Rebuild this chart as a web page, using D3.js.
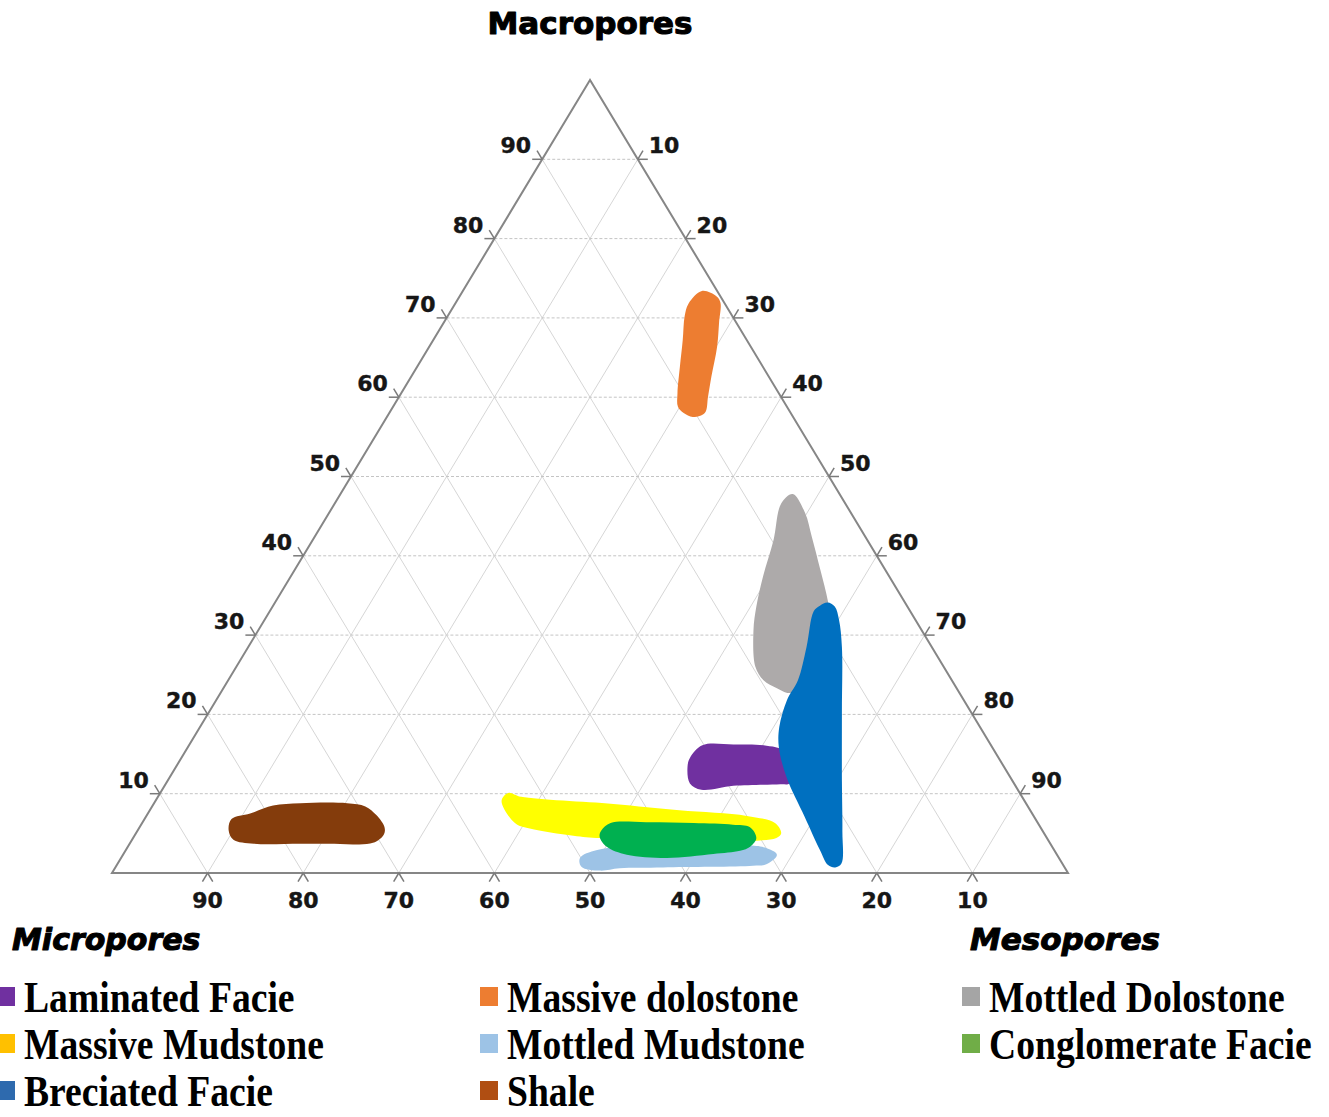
<!DOCTYPE html>
<html>
<head>
<meta charset="utf-8">
<script src="https://cdn.jsdelivr.net/npm/d3@7"></script>
<style>
  html, body { margin: 0; padding: 0; background: #fff; }
  svg { display: block; }
</style>
</head>
<body>
<svg id="chart" width="1329" height="1117"></svg>
<script>
// Ternary pore-size diagram: Macropores (apex), Micropores (bottom-left), Mesopores (bottom-right).
// Each facies field is an outline given as [macro, meso, micro] percentages.

const facies = ["Laminated Facie", "Massive dolostone", "Mottled Dolostone",
                "Massive Mudstone", "Mottled Mudstone", "Conglomerate Facie",
                "Breciated Facie", "Shale"];

const tickValues = [10, 20, 30, 40, 50, 60, 70, 80, 90];

const shale = [[6.8,9.1,84.1],[7.5,10.7,81.8],[8.5,12.6,78.9],[8.8,15.3,75.9],[8.8,20.2,71.0],
  [8.4,22.3,69.3],[7.3,24.0,68.7],[5.8,25.6,68.6],[4.9,26.0,69.1],[3.8,25.4,70.8],
  [3.7,21.3,75.0],[3.7,17.8,78.5],[3.7,13.0,83.3],[4.2,10.6,85.2],[5.4,9.5,85.1]];

const massiveDolostone = [[73.4,25.0,1.6],[72.7,26.9,0.4],[71.9,27.7,0.4],[69.4,28.8,1.8],
  [66.4,30.1,3.5],[62.6,31.4,6.0],[60.1,32.3,7.6],[58.0,33.0,9.0],[57.5,32.0,10.5],
  [58.0,30.8,11.2],[58.8,29.8,11.4],[60.5,28.9,10.6],[63.8,27.5,8.7],[67.2,26.1,6.7],
  [70.2,24.8,5.0],[71.8,24.4,3.8]];

const mottledDolostone = [[47.8,47.3,4.9],[45.4,49.8,4.8],[42.4,52.0,5.6],[38.2,55.0,6.8],
  [34.2,57.8,8.0],[30.6,60.0,9.4],[25.0,61.1,13.9],[22.7,59.6,17.7],[23.3,57.9,18.8],
  [24.3,56.0,19.7],[26.0,54.3,19.7],[30.6,51.8,17.6],[33.6,50.6,15.8],[37.4,49.4,13.2],
  [42.0,48.2,9.8],[46.6,46.7,6.7]];

const laminatedFacie = [[16.1,53.7,30.2],[16.2,56.9,26.9],[16.1,60.1,23.8],[15.3,62.8,21.9],
  [13.0,64.6,22.4],[11.3,65.2,23.5],[11.2,64.3,24.5],[11.0,59.5,29.5],[10.5,56.4,33.1],
  [11.3,54.8,33.9],[13.4,53.5,33.1],[14.5,53.2,32.3]];

const massiveMudstone = [[10.1,36.4,53.5],[9.6,38.0,52.4],[8.7,48.1,43.2],[7.9,55.4,36.7],
  [7.2,62.8,30.0],[6.3,66.2,27.5],[5.0,67.5,27.5],[4.4,67.3,28.3],[4.1,65.7,30.2],
  [4.2,60.8,35.0],[4.4,48.9,46.7],[4.7,45.9,49.4],[5.6,40.9,53.5],[6.3,39.0,54.7],
  [9.1,36.2,54.7]];

const mottledMudstone = [[1.9,48.0,50.1],[2.9,49.3,47.8],[3.5,54.2,42.3],[3.5,64.6,31.9],
  [3.2,66.7,30.1],[2.3,68.4,29.3],[1.1,67.9,31.0],[0.9,66.6,32.5],[0.7,57.3,42.0],
  [0.6,52.8,46.6],[0.3,50.9,48.8],[0.8,48.7,50.5]];

const conglomerateFacie = [[6.3,49.0,44.7],[6.4,52.7,40.9],[6.3,57.7,36.0],[6.1,61.9,32.0],
  [5.8,63.8,30.4],[4.4,65.2,30.4],[3.3,65.1,31.6],[2.8,64.3,32.9],[2.4,61.7,35.9],
  [1.9,57.1,41.0],[2.3,52.7,45.0],[3.3,50.1,46.6],[4.6,48.7,46.7],[5.4,48.5,46.1]];

const breciatedFacie = [[34.1,57.8,8.1],[33.6,58.8,7.6],[31.9,60.1,8.0],[28.5,62.1,9.4],
  [20.1,66.3,13.6],[11.7,70.5,17.8],[5.4,73.7,20.9],[1.2,75.7,23.1],[0.7,75.3,24.0],
  [1.0,74.4,24.6],[2.9,72.6,24.5],[7.1,68.9,24.0],[12.1,64.5,23.4],[15.9,61.8,22.3],
  [18.4,60.6,21.0],[21.8,59.7,18.5],[24.3,59.6,16.1],[28.5,58.4,13.1],[33.0,56.9,10.1],
  [33.7,57.2,9.1]];

// Field fills and legend swatch colours
const fieldColors = {
  "Laminated Facie": "#7030A0", "Massive dolostone": "#ED7D31", "Mottled Dolostone": "#ADAAAA",
  "Massive Mudstone": "#FFFF00", "Mottled Mudstone": "#9DC3E6", "Conglomerate Facie": "#00B050",
  "Breciated Facie": "#0070C0", "Shale": "#843C0C"
};
const swatchColors = {
  "Laminated Facie": "#7030A0", "Massive dolostone": "#ED7D31", "Mottled Dolostone": "#A5A5A5",
  "Massive Mudstone": "#FFC000", "Mottled Mudstone": "#9DC3E6", "Conglomerate Facie": "#70AD47",
  "Breciated Facie": "#2E6AAE", "Shale": "#B04E12"
};

// Drawing order (later fields sit on top)
const layers = [
  ["Shale", shale], ["Massive dolostone", massiveDolostone], ["Mottled Dolostone", mottledDolostone],
  ["Laminated Facie", laminatedFacie], ["Massive Mudstone", massiveMudstone],
  ["Mottled Mudstone", mottledMudstone], ["Conglomerate Facie", conglomerateFacie],
  ["Breciated Facie", breciatedFacie]
];

const svg = d3.select("#chart");

// Scales: horizontal position along the base, vertical position by macropore share
const xBase = d3.scaleLinear().domain([0, 100]).range([112, 1068]);
const yMacro = d3.scaleLinear().domain([0, 100]).range([873, 80]);

// [macro, meso, micro] -> [x, y]
function project(p) {
  const a = p[0], b = p[1];
  return [xBase(b + a / 2), yMacro(a)];
}

const apex = project([100, 0, 0]);
const left = project([0, 0, 100]);
const right = project([0, 100, 0]);

// Grid lines
const grid = svg.append("g");
tickValues.forEach(v => {
  // constant macropores (horizontal, dashed)
  const h1 = project([v, 0, 100 - v]), h2 = project([v, 100 - v, 0]);
  grid.append("line").attr("x1", h1[0]).attr("y1", h1[1]).attr("x2", h2[0]).attr("y2", h2[1])
    .attr("stroke", "#c4c4c4").attr("stroke-width", 1).attr("stroke-dasharray", "3,2");
  // constant micropores (parallel to right edge)
  const m1 = project([100 - v, 0, v]), m2 = project([0, 100 - v, v]);
  grid.append("line").attr("x1", m1[0]).attr("y1", m1[1]).attr("x2", m2[0]).attr("y2", m2[1])
    .attr("stroke", "#d6d6d6").attr("stroke-width", 1);
  // constant mesopores (parallel to left edge)
  const s1 = project([100 - v, v, 0]), s2 = project([0, v, 100 - v]);
  grid.append("line").attr("x1", s1[0]).attr("y1", s1[1]).attr("x2", s2[0]).attr("y2", s2[1])
    .attr("stroke", "#d6d6d6").attr("stroke-width", 1);
});

// Facies fields
const outline = d3.line().curve(d3.curveCatmullRomClosed.alpha(0.5));
svg.append("g").selectAll("path")
  .data(layers)
  .join("path")
  .attr("d", d => outline(d[1].map(project)))
  .attr("fill", d => fieldColors[d[0]])
  .attr("stroke", "none");

// Triangle frame
svg.append("path")
  .attr("d", d3.line()([apex, left, right]) + "Z")
  .attr("fill", "none")
  .attr("stroke", "#868686")
  .attr("stroke-width", 2)
  .attr("stroke-linejoin", "miter");

// Tick marks: short extensions of the grid lines beyond each edge
const tickLen = 10;
function unit(p, q) {
  const dx = q[0] - p[0], dy = q[1] - p[1], l = Math.hypot(dx, dy);
  return [dx / l, dy / l];
}
const dirRightEdge = unit(right, apex);   // up-left along right edge
const dirLeftEdge = unit(left, apex);     // up-right along left edge
const ticks = svg.append("g").attr("stroke", "#7a7a7a").attr("stroke-width", 1.5).attr("fill", "none");
function tick(p, dirs) {
  dirs.forEach(d => {
    ticks.append("line").attr("x1", p[0]).attr("y1", p[1])
      .attr("x2", p[0] + d[0] * tickLen).attr("y2", p[1] + d[1] * tickLen);
  });
}

const labelStyle = sel => sel
  .attr("font-family", "'DejaVu Sans', sans-serif")
  .attr("font-weight", "bold")
  .attr("font-size", 22)
  .attr("fill", "#161616")
  .attr("stroke", "#161616")
  .attr("stroke-width", 0.4);

const labels = svg.append("g");
tickValues.forEach(v => {
  // Left edge: Macropores
  const pl = project([v, 0, 100 - v]);
  tick(pl, [[-1, 0], dirRightEdge]);
  labels.append("text").call(labelStyle)
    .attr("x", pl[0] - 11).attr("y", pl[1] - 6).attr("text-anchor", "end").text(v);

  // Right edge: Mesopores
  const pr = project([100 - v, v, 0]);
  tick(pr, [[1, 0], dirLeftEdge]);
  labels.append("text").call(labelStyle)
    .attr("x", pr[0] + 11).attr("y", pr[1] - 6).attr("text-anchor", "start").text(v);

  // Base: Micropores
  const pb = project([0, 100 - v, v]);
  tick(pb, [[-dirLeftEdge[0], -dirLeftEdge[1]], [-dirRightEdge[0], -dirRightEdge[1]]]);
  labels.append("text").call(labelStyle)
    .attr("x", pb[0]).attr("y", pb[1] + 35).attr("text-anchor", "middle").text(v);
});

// Axis titles
const titleStyle = sel => sel
  .attr("font-family", "'DejaVu Sans', sans-serif").attr("font-weight", "bold")
  .attr("fill", "#000").attr("stroke", "#000").attr("stroke-width", 1.1)
  .attr("stroke-linejoin", "round");
svg.append("text").call(titleStyle)
  .attr("x", apex[0]).attr("y", 34).attr("text-anchor", "middle")
  .attr("font-size", 31).text("Macropores");
svg.append("text").call(titleStyle)
  .attr("x", 12).attr("y", 950).attr("font-style", "italic")
  .attr("font-size", 30).text("Micropores");
svg.append("text").call(titleStyle)
  .attr("x", 970).attr("y", 950).attr("font-style", "italic")
  .attr("font-size", 31).text("Mesopores");

// Legend: three columns, filled row by row
const legendCols = [-3, 480, 962];
const legendRows = [1012, 1059, 1106];
const legend = svg.append("g");
facies.forEach((name, i) => {
  const cx = legendCols[i % 3], by = legendRows[Math.floor(i / 3)];
  legend.append("rect")
    .attr("x", cx).attr("y", by - 25).attr("width", 18).attr("height", 19)
    .attr("fill", swatchColors[name]);
  legend.append("text")
    .attr("transform", `translate(${cx + 27},${by}) scale(0.855,1)`)
    .attr("font-family", "'Liberation Serif', 'Times New Roman', serif")
    .attr("font-weight", "bold").attr("font-size", 44).attr("fill", "#000")
    .text(name);
});
</script>
</body>
</html>
